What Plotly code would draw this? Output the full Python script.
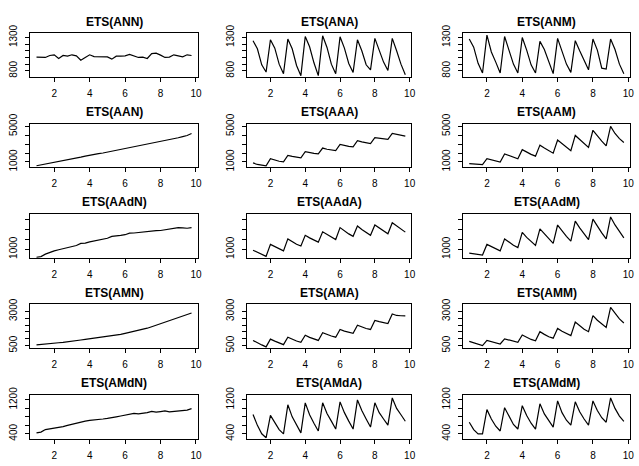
import plotly.graph_objects as go

# ---------------- data ----------------
time = [1.0, 1.25, 1.5, 1.75, 2.0, 2.25, 2.5, 2.75, 3.0, 3.25, 3.5, 3.75,
        4.0, 4.25, 4.5, 4.75, 5.0, 5.25, 5.5, 5.75, 6.0, 6.25, 6.5, 6.75,
        7.0, 7.25, 7.5, 7.75, 8.0, 8.25, 8.5, 8.75, 9.0, 9.25, 9.5, 9.75]

titles = ["ETS(ANN)", "ETS(ANA)", "ETS(ANM)",
          "ETS(AAN)", "ETS(AAA)", "ETS(AAM)",
          "ETS(AAdN)", "ETS(AAdA)", "ETS(AAdM)",
          "ETS(AMN)", "ETS(AMA)", "ETS(AMM)",
          "ETS(AMdN)", "ETS(AMdA)", "ETS(AMdM)"]

ANN = [1005, 1003, 1000, 1030, 1040, 985, 1030, 1020, 1040, 1025, 960, 1000,
       1040, 1012, 1012, 1010, 1008, 975, 1020, 1020, 1025, 1045, 1020, 1000,
       1005, 985, 1058, 1065, 1035, 1000, 1005, 1040, 1025, 1010, 1040, 1030]
ANA = [1252, 1130, 890, 781, 1266, 1140, 900, 757, 1276, 1130, 880, 727,
       1315, 1160, 920, 727, 1325, 1150, 900, 757, 1310, 1140, 910, 776,
       1266, 1100, 890, 815, 1286, 1120, 930, 805, 1286, 1100, 900, 742]
ANM = [1276, 1155, 912, 767, 1335, 1082, 930, 767, 1315, 1120, 900, 767,
       1300, 1110, 890, 767, 1242, 1120, 950, 757, 1286, 1100, 900, 776,
       1252, 1100, 960, 815, 1276, 1110, 840, 825, 1276, 1120, 900, 757]

AAN = [570, 660, 760, 860, 970, 1060, 1160, 1260, 1350, 1440, 1540, 1650,
       1760, 1880, 1930, 2010, 2110, 2200, 2290, 2380, 2480, 2580, 2680, 2790,
       2920, 3000, 3060, 3180, 3300, 3400, 3500, 3600, 3720, 3850, 3980, 4200]
AAA = [890, 720, 640, 564, 1364, 1200, 1080, 1000, 1727, 1620, 1530, 1473,
       2164, 2040, 1960, 1909, 2564, 2430, 2320, 2273, 2964, 2850, 2760, 2709,
       3400, 3260, 3130, 3073, 3727, 3650, 3580, 3545, 4200, 4120, 4000, 3909]
AAM = [818, 780, 709, 709, 1364, 1250, 1120, 1000, 1909, 1700, 1520, 1364,
       2382, 2100, 1850, 1655, 2891, 2560, 2250, 1982, 3473, 3050, 2650, 2273,
       3982, 3500, 3050, 2636, 4564, 3900, 3350, 2818, 5000, 4200, 3618, 3182]

AAdN = [185, 260, 511, 700, 837, 950, 1065, 1180, 1326, 1380, 1587, 1620,
        1750, 1830, 1913, 1980, 2108, 2304, 2330, 2402, 2467, 2630, 2640, 2695,
        2760, 2830, 2890, 2870, 2890, 2950, 3021, 3080, 3184, 3150, 3119, 3184]
AAdA = [902, 700, 500, 283, 1489, 1250, 1030, 837, 2043, 1760, 1500, 1326,
        2402, 2150, 1900, 1717, 2760, 2500, 2200, 1978, 3184, 2850, 2550, 2304,
        3347, 3000, 2700, 2402, 3445, 3150, 2800, 2565, 3673, 3350, 3000, 2728]
AAdM = [609, 550, 480, 413, 1489, 1250, 1030, 837, 2043, 1700, 1400, 1163,
        2695, 2200, 1750, 1391, 3054, 2550, 2000, 1587, 3445, 2850, 2300, 1815,
        3836, 3150, 2550, 1978, 4032, 3300, 2650, 2043, 4260, 3450, 2750, 2141]

AMN = [547, 570, 600, 640, 689, 710, 740, 770, 800, 840, 910, 950,
       990, 1030, 1090, 1150, 1180, 1210, 1240, 1320, 1390, 1460, 1560, 1620,
       1680, 1770, 1880, 1990, 2100, 2200, 2330, 2450, 2570, 2660, 2770, 2884]
AMA = [878, 689, 550, 406, 972, 830, 700, 571, 1114, 950, 840, 736,
       1255, 1100, 980, 878, 1444, 1300, 1200, 1114, 1680, 1560, 1470, 1397,
       1987, 1850, 1750, 1680, 2341, 2250, 2170, 2105, 2813, 2700, 2680, 2671]
AMM = [807, 700, 600, 500, 878, 780, 690, 618, 996, 900, 800, 736,
       1279, 1100, 950, 854, 1515, 1320, 1150, 1043, 1751, 1550, 1380, 1232,
       2223, 1950, 1700, 1515, 2695, 2350, 2050, 1822, 3285, 2850, 2450, 2152]

AMdN = [421, 440, 500, 515, 536, 545, 570, 600, 628, 640, 670, 700,
        719, 725, 740, 750, 765, 790, 800, 820, 834, 850, 880, 870,
        880, 900, 930, 910, 925, 940, 920, 930, 925, 950, 960, 994]
AMdA = [857, 600, 400, 307, 834, 650, 500, 399, 1085, 800, 600, 422,
        1131, 850, 650, 467, 1131, 880, 700, 513, 1154, 900, 700, 513,
        1200, 950, 750, 559, 1131, 900, 750, 605, 1246, 1000, 850, 696]
AMdM = [673, 500, 400, 399, 971, 750, 580, 467, 1017, 800, 620, 513,
        1063, 830, 650, 513, 1108, 870, 700, 559, 1177, 900, 720, 605,
        1154, 920, 750, 605, 1177, 950, 780, 673, 1246, 1000, 820, 696]

series = [ANN, ANA, ANM, AAN, AAA, AAM, AAdN, AAdA, AAdM,
          AMN, AMA, AMM, AMdN, AMdA, AMdM]

x_ticks = [2, 4, 6, 8, 10]
row_ytick_vals = [[800, 900, 1000, 1100, 1200, 1300],
                  [1000, 2000, 3000, 4000, 5000],
                  [1000, 2000, 3000, 4000],
                  [500, 1000, 1500, 2000, 2500, 3000],
                  [400, 600, 800, 1000, 1200]]
row_ytick_text = [["800", "", "", "", "", "1300"],
                  ["1000", "", "", "", "5000"],
                  ["1000", "", "", ""],
                  ["500", "", "", "", "", "3000"],
                  ["400", "", "", "", "1200"]]
row_yrange = [[708, 1363], [396, 5305], [146, 4547], [316, 3502], [289, 1319]]

# ---------------- layout ----------------
W, H = 639, 466
col_px = [(30.5, 199.0), (248.5, 414.0), (466.0, 634.0)]
row_px = [(24.0, 69.0), (117.2, 162.2), (210.4, 255.4), (303.6, 348.6), (396.8, 441.8)]
FONT = "Liberation Sans, Arial, Helvetica, sans-serif"

fig = go.Figure()
layout = dict(width=W, height=H, margin=dict(l=0, r=0, t=0, b=0),
              paper_bgcolor="white", plot_bgcolor="white", showlegend=False,
              font=dict(family=FONT, color="black"))
annotations = []

for k in range(15):
    r, c = divmod(k, 3)
    idx = "" if k == 0 else str(k + 1)
    fig.add_trace(go.Scatter(x=time, y=series[k], mode="lines",
                             line=dict(color="black", width=1.2),
                             xaxis="x" + idx, yaxis="y" + idx,
                             hoverinfo="skip"))
    x0, x1 = col_px[c]
    top, bot = row_px[r]
    layout["xaxis" + idx] = dict(
        domain=[x0 / W, x1 / W], anchor="y" + idx, range=[0.65, 10.1],
        tickmode="array", tickvals=x_ticks, ticktext=[str(v) for v in x_ticks],
        ticks="outside", ticklen=4, tickwidth=1, tickcolor="black",
        showline=True, linecolor="black", linewidth=1, mirror=True,
        showgrid=False, zeroline=False, ticklabelstandoff=3,
        tickfont=dict(size=10, family=FONT, color="black"))
    layout["yaxis" + idx] = dict(
        domain=[1 - bot / H, 1 - top / H], anchor="x" + idx, range=row_yrange[r],
        tickmode="array", tickvals=row_ytick_vals[r], ticktext=row_ytick_text[r],
        ticks="outside", ticklen=4, tickwidth=1, tickcolor="black",
        showline=True, linecolor="black", linewidth=1, mirror=True,
        showgrid=False, zeroline=False, tickangle=-90, ticklabelstandoff=4,
        tickfont=dict(size=10, family=FONT, color="black"))
    annotations.append(dict(
        text="<b>" + titles[k] + "</b>", xref="paper", yref="paper",
        x=(x0 + x1) / 2 / W, y=1 - (top - 12) / H, xanchor="center", yanchor="middle",
        showarrow=False, font=dict(size=12, family=FONT, color="black")))

layout["annotations"] = annotations
fig.update_layout(**layout)
fig.write_html("out.html", config={"displayModeBar": False},
               post_script="document.body.style.margin='0';document.body.style.padding='0';")
